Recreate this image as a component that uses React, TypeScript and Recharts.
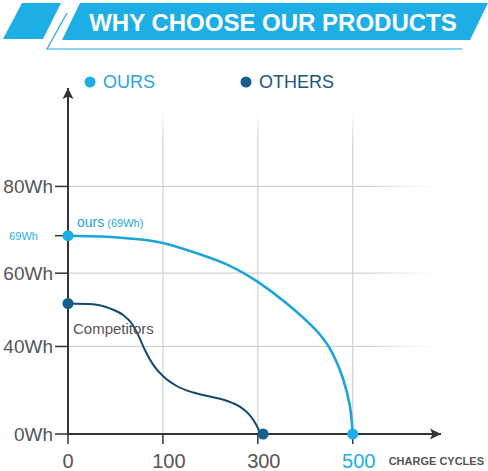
import { Legend, Line, LineChart, ReferenceDot, ReferenceLine, XAxis, YAxis } from "recharts";

const CYCLE_TICKS = [0, 100, 300, 500];
const WH_TICKS = [0, 40, 60, 69, 80];
const GRID_CYCLES = [100, 300, 500];
const GRID_WH = [40, 60, 80];

const OURS_CYCLES = [0, 34, 68, 100, 178, 241, 300, 361, 424, 458, 479, 494, 500];
const OURS_WH = [69, 68.8, 68.3, 67.3, 64.6, 61.8, 57.8, 52.2, 44.6, 37.7, 29.7, 18.7, 0];

const OTHERS_CYCLES = [0, 26, 44, 58, 67, 74, 81, 90, 101, 129, 164, 199, 234, 262, 283, 297, 304, 311];
const OTHERS_WH = [52.2, 52.0, 50.9, 49.1, 46.8, 43.4, 38.9, 34.1, 30.2, 26.8, 24.3, 22.7, 21.0, 18.4, 14.4, 8.8, 3.5, 0];

const CYAN = "#1daee5";
const CYAN_LINE = "#1ba5d9";
const NAVY = "#124a72";
const NAVY_DOT = "#155f8f";
const AXIS = "#333333";
const TEXT = "#555555";
const FONT = "Arial, 'Liberation Sans', sans-serif";

const W = 488;
const H = 471;
const MARGIN = { top: 88, right: 47, bottom: 0, left: 0 };
const Y_AXIS_W = 68;
const X_AXIS_H = 37;
const X_MAX = 3.93;
const Y_MAX_WH = 100;

// cycles ticks are drawn evenly spaced, so map cycles onto tick index
const cycleToPos = (c: number) => {
  for (let i = 1; i < CYCLE_TICKS.length; i++) {
    if (c <= CYCLE_TICKS[i]) {
      const a = CYCLE_TICKS[i - 1];
      const b = CYCLE_TICKS[i];
      return i - 1 + (c - a) / (b - a);
    }
  }
  return CYCLE_TICKS.length - 1;
};
// Wh axis gets wider towards the top
const whToPos = (wh: number) => Math.pow(wh, 1.5);
const posToWh = (p: number) => Math.pow(p, 2 / 3);

const toPoints = (cycles: number[], wh: number[]) =>
  cycles.map((c, i) => ({ x: cycleToPos(c), y: whToPos(wh[i]) }));

const oursData = toPoints(OURS_CYCLES, OURS_WH);
const othersData = toPoints(OTHERS_CYCLES, OTHERS_WH);

const endDot = (color: string, count: number) => (props: any) => {
  const { cx, cy, index } = props;
  if (index !== 0 && index !== count - 1) return <g key={`d-${index}`} />;
  return <circle key={`d-${index}`} cx={cx} cy={cy} r={5.5} fill={color} stroke="none" />;
};

const YTick = (props: any) => {
  const { x, y, payload } = props;
  const wh = Math.round(posToWh(payload.value));
  if (wh === 69) {
    return (
      <text x={x - 15} y={y} dy="0.35em" textAnchor="end" fontSize={11} fill={CYAN} fontFamily={FONT}>
        69Wh
      </text>
    );
  }
  return (
    <text x={x} y={y} dy="0.35em" textAnchor="end" fontSize={19} fill={TEXT} fontFamily={FONT}>
      {wh}Wh
    </text>
  );
};

const XTick = (props: any) => {
  const { x, y, payload } = props;
  const i = Math.round(payload.value);
  const label = CYCLE_TICKS[i];
  return (
    <text
      x={x + (i === 0 ? 0 : 6)}
      y={y + 22}
      textAnchor="middle"
      fontSize={20}
      fill={label === 500 ? CYAN : TEXT}
      fontFamily={FONT}
    >
      {label}
    </text>
  );
};

const LegendContent = () => (
  <svg width={300} height={24}>
    <circle cx={10} cy={12} r={5.5} fill={CYAN} />
    <text x={23} y={12} dy="0.36em" fontSize={18} fill="#27a7da" fontFamily={FONT}>
      OURS
    </text>
    <circle cx={166} cy={12} r={5.5} fill={NAVY_DOT} />
    <text x={179} y={12} dy="0.36em" fontSize={18} fill="#1b5680" fontFamily={FONT}>
      OTHERS
    </text>
  </svg>
);

const Banner = () => (
  <svg width={W} height={60} style={{ position: "absolute", left: 0, top: 0 }}>
    <defs>
      <linearGradient id="gridFadeH" gradientUnits="userSpaceOnUse" x1={68} y1={0} x2={436} y2={0}>
        <stop offset="0%" stopColor="#d2d2d2" />
        <stop offset="80%" stopColor="#d2d2d2" />
        <stop offset="100%" stopColor="#d2d2d2" stopOpacity={0} />
      </linearGradient>
      <linearGradient id="gridFadeV" gradientUnits="userSpaceOnUse" x1={0} y1={110} x2={0} y2={434}>
        <stop offset="0%" stopColor="#d2d2d2" stopOpacity={0} />
        <stop offset="10%" stopColor="#d2d2d2" />
        <stop offset="100%" stopColor="#d2d2d2" />
      </linearGradient>
    </defs>
    <polygon points="22,3 61,3 43,39 3,39" fill={CYAN} />
    <polygon points="80,3 488,3 470,40 62,40" fill={CYAN} />
    <polyline points="67,13 47,49 462,49" fill="none" stroke={CYAN} strokeWidth={1.2} />
    <text x={273} y={31} textAnchor="middle" fontSize={24} fontWeight="bold" fill="#ffffff" fontFamily={FONT}>
      WHY CHOOSE OUR PRODUCTS
    </text>
  </svg>
);

export default function App() {
  return (
    <div style={{ position: "absolute", left: 0, top: 0, width: W, height: H, background: "#fff", fontFamily: FONT }}>
      <Banner />
      <LineChart width={W} height={H} margin={MARGIN} style={{ position: "absolute", left: 0, top: 0 }}>
        <XAxis
          dataKey="x"
          type="number"
          domain={[0, X_MAX]}
          ticks={CYCLE_TICKS.map(cycleToPos)}
          interval={0}
          height={X_AXIS_H}
          tickSize={10}
          tick={<XTick />}
          axisLine={{ stroke: AXIS, strokeWidth: 2 }}
          tickLine={{ stroke: AXIS, strokeWidth: 1.5 }}
        />
        <YAxis
          dataKey="y"
          type="number"
          domain={[0, whToPos(Y_MAX_WH)]}
          ticks={WH_TICKS.map(whToPos)}
          interval={0}
          width={Y_AXIS_W}
          tickSize={13}
          tick={<YTick />}
          axisLine={{ stroke: AXIS, strokeWidth: 2 }}
          tickLine={{ stroke: AXIS, strokeWidth: 1.5 }}
        />
        {GRID_WH.map((wh) => (
          <ReferenceLine key={`h-${wh}`} y={whToPos(wh)} stroke="url(#gridFadeH)" strokeWidth={1.2} />
        ))}
        {GRID_CYCLES.map((c) => (
          <ReferenceLine key={`v-${c}`} x={cycleToPos(c)} stroke="url(#gridFadeV)" strokeWidth={1.2} />
        ))}
        <Legend
          layout="horizontal"
          verticalAlign="middle"
          align="center"
          wrapperStyle={{ top: 70, left: 80, width: 300, height: 24 }}
          content={<LegendContent />}
        />
        <Line
          data={othersData}
          dataKey="y"
          name="OTHERS"
          type="monotone"
          stroke={NAVY}
          strokeWidth={2}
          dot={endDot(NAVY_DOT, othersData.length)}
          activeDot={false}
          isAnimationActive={false}
        />
        <Line
          data={oursData}
          dataKey="y"
          name="OURS"
          type="natural"
          stroke={CYAN_LINE}
          strokeWidth={2.6}
          dot={endDot(CYAN, oursData.length)}
          activeDot={false}
          isAnimationActive={false}
        />
        <ReferenceDot
          x={0}
          y={whToPos(Y_MAX_WH)}
          ifOverflow="visible"
          shape={(p: any) => (
            <path d={`M${p.cx},${p.cy} L${p.cx + 5.5},${p.cy + 11} L${p.cx},${p.cy + 8.5} L${p.cx - 5.5},${p.cy + 11} Z`} fill={AXIS} />
          )}
        />
        <ReferenceDot
          x={X_MAX}
          y={0}
          ifOverflow="visible"
          shape={(p: any) => (
            <g>
              <path d={`M${p.cx},${p.cy} L${p.cx - 11},${p.cy - 5.5} L${p.cx - 8.5},${p.cy} L${p.cx - 11},${p.cy + 5.5} Z`} fill={AXIS} />
              <text x={p.cx + 43} y={p.cy + 31} textAnchor="end" fontSize={11} fontWeight="bold" fill={TEXT} fontFamily={FONT}>
                CHARGE CYCLES
              </text>
            </g>
          )}
        />
        <ReferenceDot
          x={0}
          y={whToPos(OURS_WH[0])}
          ifOverflow="visible"
          shape={(p: any) => (
            <text x={p.cx + 9} y={p.cy - 9} fill={CYAN_LINE} fontFamily={FONT}>
              <tspan fontSize={14}>ours</tspan>
              <tspan fontSize={11} dx={3}>(69Wh)</tspan>
            </text>
          )}
        />
        <ReferenceDot
          x={0}
          y={whToPos(OTHERS_WH[0])}
          ifOverflow="visible"
          shape={(p: any) => (
            <text x={p.cx + 5} y={p.cy + 30} fontSize={15} fill={TEXT} fontFamily={FONT}>
              Competitors
            </text>
          )}
        />
      </LineChart>
    </div>
  );
}
